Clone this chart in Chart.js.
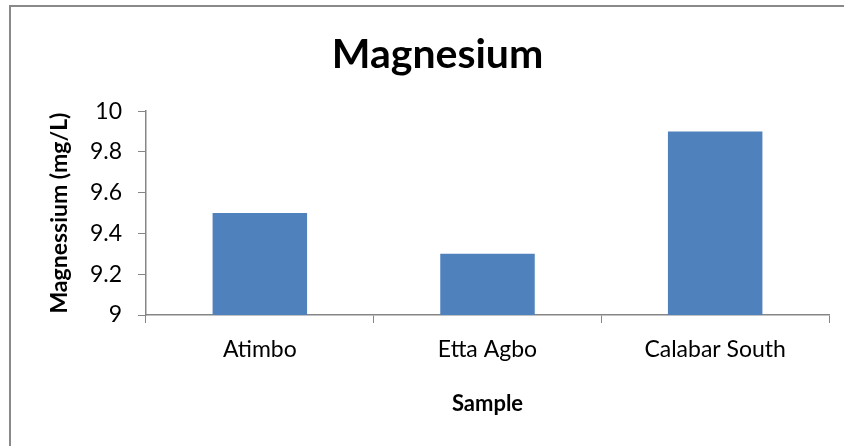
<!DOCTYPE html>
<html>
<head>
<meta charset="utf-8">
<script src="https://cdn.jsdelivr.net/npm/chart.js@4"></script>
<style>
  html, body { margin: 0; padding: 0; background: #fff; overflow: hidden; }
  #frame {
    position: absolute; left: 9px; top: 5px; width: 900px; height: 500px;
    border-left: 2px solid #898989; border-top: 2px solid #898989;
  }
  #wrap { position: absolute; left: 0; top: 0; width: 844px; height: 446px; }
</style>
</head>
<body>
<div id="frame"></div>
<div id="wrap"><canvas id="c" width="844" height="446"></canvas></div>
<script>
const categories = ["Atimbo", "Etta Agbo", "Calabar South"];
const magnesium = [9.5, 9.3, 9.9];
const yTicks = [9, 9.2, 9.4, 9.6, 9.8, 10];

const FONT = "Lato, 'Open Sans', sans-serif";
const AXIS = "#868686";

new Chart(document.getElementById("c"), {
  type: "bar",
  data: {
    labels: categories,
    datasets: [{
      label: "Magnesium",
      data: magnesium,
      backgroundColor: "#4f81bd",
      borderWidth: 0,
      barPercentage: 0.415,
      categoryPercentage: 1.0
    }]
  },
  options: {
    responsive: false,
    animation: false,
    layout: { padding: { left: 46, right: 15, top: 0, bottom: 29 } },
    plugins: {
      legend: { display: false },
      tooltip: { enabled: false },
      title: {
        display: true,
        text: "Magnesium",
        color: "#000",
        font: { family: FONT, size: 41, weight: "bold" },
        padding: { top: 30, bottom: 32 }
      }
    },
    scales: {
      x: {
        grid: { display: true, drawOnChartArea: false, color: AXIS, tickLength: 8, offset: true },
        border: { display: true, color: AXIS, width: 1.5 },
        ticks: { color: "#000", font: { family: FONT, size: 23 }, padding: 13 },
        title: {
          display: true, text: "Sample", color: "#000",
          font: { family: FONT, size: 22, weight: "bold" }, padding: 0
        },
        afterFit: s => { s.height = 102; }
      },
      y: {
        min: 9, max: 10,
        afterBuildTicks: s => { s.ticks = yTicks.map(v => ({ value: v })); },
        grid: { display: true, drawOnChartArea: false, color: AXIS, tickLength: 8 },
        border: { display: true, color: AXIS, width: 1.5 },
        ticks: { color: "#000", font: { family: FONT, size: 23 }, padding: 16,
                 callback: v => String(v) },
        title: {
          display: true, text: "Magnessium (mg/L)", color: "#000",
          font: { family: FONT, size: 23, weight: "bold" }, padding: 0
        },
        afterFit: s => { s.width = 100; }
      }
    }
  }
});
</script>
</body>
</html>
